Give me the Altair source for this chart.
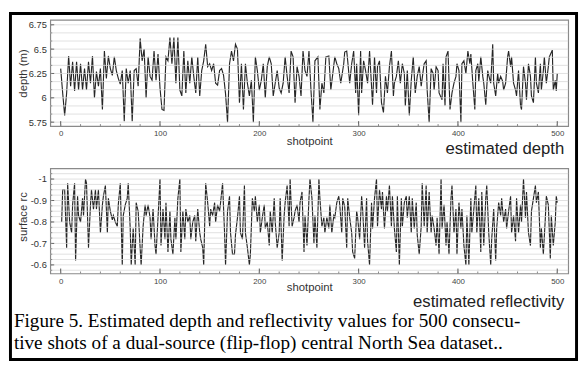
import altair as alt
import pandas as pd

# ---- data (shotpoint, value) ----
depth_points = [
    (0, 6.30), (2, 6.05), (4, 5.82), (6, 6.05), (8, 6.43), (10, 6.12), (12, 6.37), (14, 6.07),
    (16, 6.37), (18, 6.08), (20, 6.35), (22, 6.08), (24, 6.30), (26, 6.08), (28, 6.37), (30, 6.15),
    (32, 6.43), (34, 6.00), (36, 6.27), (38, 6.12), (40, 6.30), (42, 5.88), (44, 6.48), (46, 6.20),
    (48, 6.43), (50, 6.30), (52, 6.23), (54, 6.42), (56, 6.28), (58, 6.20), (60, 6.14), (62, 6.28),
    (64, 5.76), (66, 6.30), (68, 6.15), (70, 6.28), (72, 5.76), (74, 6.28), (76, 6.30), (78, 6.12),
    (80, 6.61), (82, 6.38), (84, 6.50), (86, 6.00), (88, 6.42), (90, 6.22), (92, 6.18), (94, 6.48),
    (96, 6.18), (98, 6.45), (100, 6.10), (102, 5.88), (104, 5.87), (106, 6.42), (108, 6.38), (110, 6.62),
    (112, 6.35), (114, 6.62), (116, 6.15), (118, 6.62), (120, 6.08), (122, 6.02), (124, 6.48), (126, 6.05),
    (128, 6.38), (130, 6.15), (132, 6.42), (134, 6.22), (136, 6.05), (138, 6.42), (140, 6.02), (142, 6.28),
    (144, 6.38), (146, 6.55), (148, 6.32), (150, 6.35), (152, 6.28), (154, 6.35), (156, 6.15), (158, 6.13),
    (160, 6.28), (162, 6.30), (164, 6.23), (166, 6.04), (168, 5.75), (170, 6.35), (172, 6.48), (174, 6.38),
    (176, 6.55), (178, 6.50), (180, 5.95), (182, 6.35), (184, 5.88), (186, 6.35), (188, 6.15), (190, 6.02),
    (192, 6.18), (194, 5.75), (196, 6.42), (198, 6.28), (200, 6.08), (202, 6.18), (204, 6.35), (206, 6.00),
    (208, 6.32), (210, 6.42), (212, 6.35), (214, 6.02), (216, 6.15), (218, 6.28), (220, 6.10), (222, 6.05),
    (224, 6.15), (226, 6.42), (228, 6.22), (230, 6.05), (232, 6.48), (234, 6.42), (236, 5.95), (238, 6.32),
    (240, 6.22), (242, 6.02), (244, 6.48), (246, 6.28), (248, 6.22), (250, 6.48), (252, 6.08), (254, 5.75),
    (256, 6.38), (259, 6.42), (261, 5.88), (263, 6.15), (265, 6.05), (267, 6.42), (270, 6.43), (272, 6.08),
    (274, 6.25), (276, 6.42), (278, 6.35), (280, 6.30), (282, 6.15), (285, 6.35), (286, 6.47), (288, 6.48),
    (289, 6.38), (291, 6.15), (293, 6.35), (295, 6.48), (297, 6.05), (298, 6.35), (300, 5.82), (302, 6.48),
    (303, 6.05), (305, 6.38), (307, 6.28), (309, 6.15), (311, 6.48), (313, 6.12), (314, 5.93), (316, 6.42),
    (318, 6.05), (319, 6.32), (321, 6.38), (323, 5.95), (325, 5.85), (327, 6.22), (329, 6.05), (331, 6.32),
    (333, 6.48), (335, 6.02), (336, 6.15), (338, 6.22), (340, 6.38), (342, 6.15), (344, 6.35), (346, 6.25),
    (347, 5.92), (349, 6.28), (351, 5.82), (353, 6.18), (355, 6.42), (357, 6.05), (359, 6.22), (361, 6.32),
    (363, 6.12), (365, 6.28), (366, 6.35), (368, 6.38), (369, 6.08), (371, 5.75), (373, 6.30), (375, 6.25),
    (376, 6.08), (378, 6.32), (380, 6.28), (381, 6.05), (384, 5.98), (385, 6.35), (387, 5.92), (388, 6.42),
    (390, 6.48), (392, 5.88), (394, 6.05), (396, 6.15), (398, 6.22), (399, 6.35), (401, 6.28), (403, 5.75),
    (404, 6.35), (406, 6.38), (408, 6.25), (410, 6.48), (412, 6.35), (413, 6.45), (415, 6.15), (417, 5.88),
    (418, 6.28), (420, 6.35), (421, 6.17), (423, 6.42), (425, 6.22), (426, 6.15), (428, 5.93), (430, 6.28),
    (431, 6.23), (433, 6.15), (435, 6.55), (436, 6.15), (438, 6.02), (440, 6.25), (441, 6.15), (443, 6.22),
    (445, 6.17), (446, 6.08), (448, 6.15), (450, 6.42), (451, 6.48), (453, 6.32), (454, 6.42), (456, 6.15),
    (458, 6.08), (459, 6.02), (461, 6.28), (463, 5.92), (464, 5.88), (466, 6.32), (468, 6.15), (469, 5.98),
    (471, 6.35), (473, 6.22), (474, 6.02), (476, 5.95), (478, 6.42), (479, 6.15), (481, 6.05), (483, 6.35),
    (484, 6.08), (486, 6.28), (487, 6.42), (489, 6.15), (491, 6.32), (492, 6.42), (495, 6.49), (496, 6.08),
    (498, 6.18), (499, 6.07), (500, 6.25),
]

rc_points = [
    (1, -0.80), (2, -0.95), (4, -0.95), (6, -0.68), (7, -0.98), (9, -0.80), (11, -0.75), (12, -0.88),
    (14, -0.98), (15, -0.62), (17, -0.92), (18, -0.83), (20, -0.80), (22, -0.91), (23, -0.83), (25, -1.00),
    (26, -0.98), (28, -0.68), (30, -0.88), (31, -0.95), (33, -0.86), (35, -0.95), (36, -0.86), (38, -0.95),
    (40, -0.75), (42, -0.88), (43, -0.92), (45, -0.97), (47, -0.75), (48, -0.91), (50, -0.85), (52, -0.81),
    (53, -0.83), (55, -0.80), (57, -0.78), (58, -0.88), (60, -0.98), (62, -0.60), (63, -0.83), (65, -0.88),
    (67, -0.91), (68, -0.98), (70, -0.77), (71, -0.60), (73, -0.77), (75, -0.60), (76, -0.89), (78, -0.85),
    (80, -0.68), (81, -0.60), (83, -0.78), (85, -0.88), (86, -0.83), (88, -0.88), (90, -0.82), (91, -0.72),
    (93, -0.86), (95, -0.69), (96, -0.65), (98, -0.82), (100, -1.00), (101, -0.69), (103, -0.86), (105, -0.72),
    (106, -0.89), (108, -0.66), (110, -0.85), (111, -0.72), (113, -0.65), (115, -0.82), (116, -0.72), (118, -0.91),
    (120, -1.00), (121, -0.66), (123, -0.85), (125, -0.72), (126, -0.86), (128, -0.80), (130, -0.83), (131, -0.72),
    (133, -0.80), (135, -0.83), (136, -0.71), (138, -0.86), (140, -0.75), (141, -0.72), (143, -0.68), (144, -0.60),
    (146, -0.98), (148, -0.89), (150, -0.78), (151, -0.86), (153, -0.83), (155, -0.89), (156, -0.80), (158, -0.88),
    (160, -0.85), (161, -0.89), (163, -0.98), (165, -0.75), (166, -0.60), (168, -0.85), (170, -0.92), (171, -0.75),
    (173, -0.65), (175, -0.65), (176, -0.74), (178, -0.82), (180, -0.92), (181, -0.75), (183, -0.72), (185, -0.97),
    (186, -0.75), (188, -0.68), (190, -0.60), (191, -0.65), (193, -0.91), (195, -0.85), (196, -0.92), (198, -0.80),
    (200, -0.88), (201, -0.75), (203, -0.82), (205, -0.88), (206, -0.77), (208, -0.80), (210, -0.69), (211, -0.85),
    (213, -0.75), (215, -0.91), (216, -0.80), (218, -0.68), (220, -0.75), (221, -0.91), (223, -0.62), (225, -0.83),
    (226, -0.89), (228, -0.97), (230, -0.78), (231, -1.00), (233, -0.78), (235, -0.82), (236, -0.85), (238, -0.88),
    (240, -0.80), (241, -0.89), (243, -0.94), (245, -0.66), (246, -0.83), (248, -0.69), (250, -0.91), (251, -1.00),
    (253, -0.91), (255, -0.70), (256, -0.83), (258, -0.68), (260, -1.00), (261, -0.91), (263, -0.78), (265, -0.82),
    (266, -0.75), (268, -0.82), (270, -0.77), (271, -0.88), (273, -0.75), (275, -0.83), (276, -0.82), (278, -0.89),
    (280, -0.92), (281, -0.88), (283, -0.75), (284, -0.91), (286, -0.87), (288, -0.68), (289, -0.91), (291, -0.82),
    (293, -0.75), (294, -0.66), (296, -0.63), (298, -0.85), (299, -0.82), (301, -0.72), (303, -0.92), (304, -0.86),
    (306, -0.68), (308, -0.91), (309, -0.71), (311, -0.60), (313, -0.89), (314, -0.77), (316, -0.91), (318, -1.00),
    (319, -0.78), (321, -0.95), (323, -0.86), (324, -0.94), (326, -0.77), (328, -0.92), (329, -0.85), (331, -0.97),
    (333, -0.78), (334, -0.92), (336, -0.77), (338, -0.66), (339, -0.92), (341, -0.60), (343, -0.91), (344, -0.78),
    (346, -0.89), (348, -0.92), (349, -0.82), (351, -0.92), (353, -0.75), (354, -0.91), (356, -0.77), (358, -0.89),
    (359, -0.74), (361, -0.65), (363, -0.78), (364, -0.98), (366, -0.78), (368, -0.97), (369, -0.75), (371, -0.94),
    (373, -0.75), (374, -0.83), (376, -0.77), (378, -0.69), (379, -0.82), (381, -0.65), (383, -1.00), (384, -0.77),
    (386, -0.88), (388, -0.69), (389, -0.80), (391, -0.65), (393, -0.91), (394, -0.97), (396, -0.75), (398, -0.86),
    (399, -0.65), (401, -0.89), (403, -0.77), (404, -0.86), (406, -0.69), (408, -0.60), (409, -0.83), (411, -0.60),
    (413, -0.91), (414, -0.75), (416, -0.86), (418, -0.97), (419, -0.75), (421, -0.91), (423, -0.66), (424, -0.94),
    (426, -0.69), (428, -0.91), (429, -0.97), (431, -0.75), (433, -0.60), (434, -0.72), (436, -0.86), (438, -0.62),
    (439, -0.77), (441, -0.89), (443, -0.83), (444, -0.91), (446, -0.80), (448, -0.86), (449, -0.77), (451, -0.85),
    (453, -0.92), (454, -0.75), (456, -0.83), (458, -0.71), (459, -0.91), (461, -0.75), (463, -0.88), (464, -0.80),
    (466, -1.00), (468, -0.82), (469, -0.94), (471, -0.75), (473, -0.69), (474, -0.85), (476, -0.91), (478, -0.97),
    (479, -0.89), (481, -0.94), (483, -0.68), (484, -0.77), (486, -0.65), (488, -0.82), (489, -0.92), (491, -0.88),
    (493, -0.63), (494, -0.83), (496, -0.69), (498, -0.80), (499, -0.92), (500, -0.89),
]

x_ticks = [0, 100, 200, 300, 400, 500]
x_minor_ticks = list(range(0, 501, 20))
depth_ticks = [5.75, 6.0, 6.25, 6.5, 6.75]
rc_ticks = [-1.0, -0.9, -0.8, -0.7, -0.6]
depth_grid = [5.75 + k / 12 for k in range(13)]
rc_grid = [round(-1.025 + 0.025 * k, 3) for k in range(19)]

caption = ("Figure 5. Estimated depth and reflectivity values for 500 consecu-\n"
           "tive shots of a dual-source (flip-flop) central North Sea dataset..")

W = 527
H1 = 108
H2 = 107
SANS = "Liberation Sans"
xscale = alt.Scale(domain=[-10.5, 511], nice=False, zero=False)


def panel(points, yname, ytitle, yscale, yticks, ygrid, H, label_expr,
          ytitle_y, xtitle_y, big, big_dy):
    df = pd.DataFrame(points, columns=["shot", yname])

    line = alt.Chart(df).mark_line(color="#262626", strokeWidth=1.15).encode(
        x=alt.X("shot:Q", scale=xscale, axis=alt.Axis(
            values=x_ticks, tickCount=20, title="shotpoint", ticks=False, domain=False, grid=False,
            labelOverlap=False, labelFlush=False,
            labelFont=SANS, labelFontSize=8, labelColor="#444", labelPadding=4,
            titleFont=SANS, titleFontSize=11.5, titleFontWeight="normal", titleColor="#333",
            titleY=xtitle_y, titleBaseline="middle", zindex=2)),
        y=alt.Y(f"{yname}:Q", scale=yscale, axis=alt.Axis(
            values=yticks, tickCount=20, title=ytitle, ticks=False, domain=False, grid=False,
            labelOverlap=False, labelFlush=False, labelExpr=label_expr,
            labelFont=SANS, labelFontSize=9.5, labelColor="#333", labelPadding=4,
            titleFont=SANS, titleFontSize=11.5, titleFontWeight="normal", titleColor="#333",
            titleX=-27, titleY=ytitle_y, titleAngle=270, titleBaseline="middle", titleAlign="center",
            zindex=2)),
    )

    grid = alt.Chart(pd.DataFrame({"g": ygrid})).mark_rule(
        color="#d9d9d9", strokeWidth=0.8
    ).encode(y=alt.Y("g:Q", scale=yscale), x=alt.value(0), x2=alt.value(W))

    ymaj = alt.Chart(pd.DataFrame({"g": yticks})).mark_rule(color="#666").encode(
        y=alt.Y("g:Q", scale=yscale), x=alt.value(0), x2=alt.value(4))
    ymin = alt.Chart(pd.DataFrame({"g": ygrid})).mark_rule(color="#888").encode(
        y=alt.Y("g:Q", scale=yscale), x=alt.value(0), x2=alt.value(2))
    xmaj = alt.Chart(pd.DataFrame({"shot": x_ticks})).mark_rule(color="#555").encode(
        x=alt.X("shot:Q", scale=xscale), y=alt.value(H), y2=alt.value(H - 5))
    xmin = alt.Chart(pd.DataFrame({"shot": x_minor_ticks})).mark_rule(color="#888").encode(
        x=alt.X("shot:Q", scale=xscale), y=alt.value(H), y2=alt.value(H - 2))

    bigtxt = alt.Chart(pd.DataFrame({"t": [big]})).mark_text(
        font=SANS, fontSize=17, color="#222", align="right", baseline="middle"
    ).encode(x=alt.value(W - 4), y=alt.value(H + big_dy), text="t:N")

    return [line, grid, ymaj, ymin, xmaj, xmin, bigtxt]


top_layers = panel(
    depth_points, "depth", "depth (m)",
    alt.Scale(domain=[5.71, 6.80], nice=False, zero=False),
    depth_ticks, depth_grid, H1, "format(datum.value, '.2~f')",
    H1 / 2, 16, "estimated depth", 23)

border = alt.Chart(pd.DataFrame({"a": [0]})).mark_rect(
    fillOpacity=0, stroke="black", strokeWidth=3
).encode(x=alt.value(-40.5), x2=alt.value(535.5), y=alt.value(-6.5), y2=alt.value(345.5))

top = alt.layer(*top_layers, border).properties(width=W, height=H1)

bot_layers = panel(
    rc_points, "rc", "surface rc",
    alt.Scale(domain=[-1.05, -0.56], nice=False, zero=False, reverse=True),
    rc_ticks, rc_grid, H2,
    "datum.value < 0 ? '-' + format(-datum.value, '.1~f') : format(datum.value, '.1~f')",
    49, 14, "estimated reflectivity", 29)

cap = alt.Chart(pd.DataFrame({"t": [caption]})).mark_text(
    font="Liberation Serif", fontSize=19.5, color="#000", align="left", baseline="alphabetic",
    lineBreak="\n", lineHeight=23
).encode(x=alt.value(-37), y=alt.value(161), text="t:N")

bottom = alt.layer(*bot_layers, cap).properties(width=W, height=H2)

chart = alt.vconcat(top, bottom, spacing=43, bounds="flush").properties(
    padding=0, background="white"
).configure_view(stroke="#8a8a8a", strokeWidth=1.2)

chart.save("out.html", embed_options={"renderer": "svg", "actions": False})
